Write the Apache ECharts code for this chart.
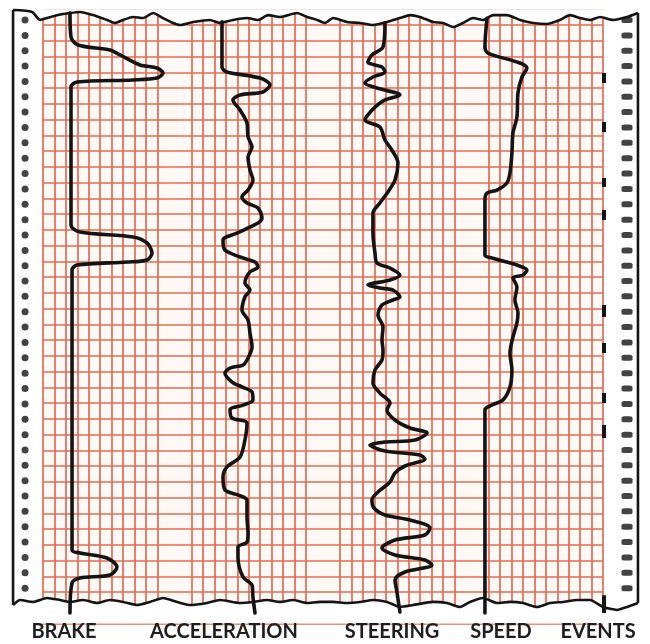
<!DOCTYPE html>
<html>
<head>
<meta charset="utf-8">
<script src="https://cdn.jsdelivr.net/npm/echarts@6/dist/echarts.min.js"></script>
<style>
  html, body { margin: 0; padding: 0; background: #fff; }
  #chart { width: 650px; height: 644px; }
</style>
</head>
<body>
<div id="chart"></div>
<script>
  // recorder paper: one column per grid division, blank columns between the channels
  var columns = [0,1,2,3,4,5,6,7,8,9,10,11,12,13,14,15,16,17,18,19,20,21,22,23,24,
                 25,26,27,28,29,30,31,32,33,34,35,36,37,38,39,40,41,42,43,44,45,46,47,48,49];
  var blankColumns = [11, 12, 24, 25, 37, 38];

  // traces, [column, row] (row 0 = first ruled line)
  var brake = [[2.36,-0.76],[2.45,0.76],[3.06,1.27],[5.86,1.59],[6.74,1.9],[8.49,2.54],[9.97,2.73],[10.5,3.05],
    [9.97,3.37],[7.87,3.49],[2.97,3.62],[2.45,3.94],[2.45,12.7],[3.24,13.14],[7.87,13.46],[9.1,13.84],[9.54,14.48],
    [9.1,14.92],[7.35,15.05],[2.97,15.24],[2.54,15.56],[2.54,33.33],[3.24,33.52],[5.6,33.84],[6.47,34.41],
    [5.86,34.92],[3.24,35.11],[2.54,35.43],[2.36,37.33]];
  var acceleration = [[15.66,-0.2],[15.66,2.67],[16.1,2.98],[18.99,3.37],[19.86,3.81],[19.25,4.25],[17.24,4.44],
    [16.62,4.76],[17.24,5.4],[17.85,6.22],[17.94,7.11],[18.29,7.75],[17.94,8.38],[18.11,9.21],[18.37,9.84],
    [17.94,10.48],[17.41,10.92],[17.85,11.3],[18.81,11.62],[19.16,12.25],[18.81,12.57],[16.97,13.21],[15.75,13.65],
    [15.92,14.29],[17.24,14.73],[18.55,15.05],[18.81,15.37],[18.11,15.68],[17.67,16.38],[18.11,16.83],[17.67,17.27],
    [17.41,18.1],[17.94,18.73],[18.11,19.56],[18.29,20.44],[17.85,21.27],[17.5,21.59],[16.36,21.78],[15.92,22.1],
    [16.54,22.67],[17.41,22.98],[18.29,23.3],[18.37,23.81],[17.5,24.13],[16.36,24.44],[16.54,24.95],[17.85,25.27],
    [17.67,26.35],[17.24,27.43],[16.1,28.06],[15.75,28.7],[15.92,29.52],[17.06,29.84],[17.85,30.16],[17.85,31.24],
    [17.94,32.25],[17.85,32.83],[17.06,33.14],[17.06,33.78],[17.5,35.05],[18.29,35.56],[18.37,36.32],[18.55,37.33]];
  var steering = [[29.92,-0.15],[29.75,1.4],[28.78,1.9],[28.43,2.35],[29.66,2.67],[29.92,2.98],[28.87,3.3],
    [28.17,3.68],[29.22,4.0],[31.23,4.44],[29.92,4.76],[29.05,5.21],[28.43,5.71],[28.17,6.03],[29.48,6.48],
    [29.92,7.3],[30.53,7.94],[31.06,8.76],[30.8,9.84],[30.18,10.6],[29.48,11.3],[28.87,11.94],[28.87,13.21],
    [29.05,14.48],[29.22,15.11],[30.36,15.43],[31.23,15.87],[30.36,16.19],[28.43,16.51],[29.48,16.7],[30.62,16.83],
    [31.23,17.27],[30.62,17.46],[29.66,17.78],[29.31,18.41],[29.75,19.17],[29.66,20.0],[29.75,20.63],[29.66,21.27],
    [29.05,21.9],[28.87,22.73],[29.48,23.37],[30.36,24.0],[30.1,24.44],[30.8,25.08],[32.11,25.59],[33.6,25.9],
    [32.55,26.35],[29.92,26.48],[28.61,26.67],[29.92,27.05],[32.98,27.3],[33.42,27.56],[31.67,28.0],[30.8,28.44],
    [30.36,29.02],[29.31,29.65],[28.78,30.16],[28.96,30.67],[29.92,31.11],[32.11,31.43],[33.86,31.94],[33.42,32.38],
    [30.8,32.7],[29.66,33.21],[30.8,33.65],[33.42,33.97],[34.03,34.29],[31.67,34.73],[30.8,35.24],[30.97,36.0],
    [31.23,37.27]];
  var speed = [[38.85,-0.42],[38.67,1.4],[38.93,1.78],[41.73,2.41],[42.34,2.73],[41.91,3.3],[41.56,4.32],
    [41.47,5.84],[41.12,6.86],[41.03,8.13],[40.86,9.4],[40.59,10.03],[39.72,10.48],[38.85,10.67],[38.67,11.11],
    [38.67,14.6],[39.28,14.79],[41.47,15.24],[42.34,15.56],[42.0,15.87],[41.12,16.06],[41.47,16.63],[41.29,17.46],
    [41.56,18.29],[41.47,18.92],[41.12,19.81],[40.86,20.83],[41.03,21.9],[40.86,22.98],[40.24,23.81],[39.28,24.13],
    [38.67,24.44],[38.67,37.33]];
  // event pen marks, [from row, to row]
  var events = [[3.05,3.68],[6.16,6.79],[9.71,10.29],[11.75,12.38],[17.78,18.54],[20.19,20.83],
    [23.37,24.0],[25.4,26.22],[36.2,37.33]];
  var eventColumn = 49.05;

  // torn paper edges
  var topEdge = [[-2.62,-0.95],[-0.96,-0.83],[-0.26,-0.32],[0.35,-0.44],[1.31,-0.63],[2.36,-0.76],[3.24,-0.83],
    [4.38,-0.63],[5.6,-0.32],[6.3,-0.13],[7.0,-0.32],[7.88,-0.51],[8.75,-0.44],[9.63,-0.76],[10.5,-0.44],
    [11.38,-0.13],[11.99,0],[13.13,-0.19],[14.61,-0.32],[15.49,-0.13],[16.63,-0.32],[17.85,-0.44],[18.81,-0.32],
    [19.69,-0.63],[20.74,-0.51],[22.23,-0.76],[23.1,-0.51],[23.98,-0.32],[24.68,-0.13],[25.38,-0.44],[26.6,-0.19],
    [27.74,-0.13],[28.88,0],[30.1,-0.19],[31.24,-0.44],[32.11,-0.63],[32.99,-0.51],[34.13,-0.19],[35.0,-0.13],
    [35.88,0.13],[36.75,-0.13],[37.63,-0.44],[38.5,-0.32],[39.38,-0.63],[40.6,-0.63],[41.74,-0.32],[42.88,-0.13],
    [44.1,-0.06],[45.24,-0.32],[46.11,-0.63],[46.99,-0.44],[47.86,-0.32],[48.74,-0.51],[49.88,-0.32],[51.1,-0.51],
    [52.06,-0.76]];
  var bottomEdge = [[-2.62,36.83],[-2.01,36.51],[-0.88,36.63],[0.35,36.38],[1.49,36.51],[2.36,36.63],[3.5,36.51],
    [4.73,36.7],[5.86,36.51],[7.0,36.63],[8.23,36.83],[9.36,36.63],[10.5,36.38],[11.73,36.63],[12.86,36.83],
    [14.35,36.7],[15.49,36.51],[17.24,36.7],[18.38,36.63],[19.6,36.51],[20.74,36.63],[21.88,36.51],[23.1,36.7],
    [24.24,36.63],[25.38,36.63],[26.6,36.7],[27.74,36.63],[28.88,36.51],[30.1,36.63],[31.24,36.95],[32.38,36.83],
    [34.13,36.63],[35.35,36.7],[36.49,36.95],[37.36,36.63],[38.5,36.38],[39.73,36.7],[40.86,36.63],[42.0,36.7],
    [43.23,36.95],[44.36,36.7],[45.5,36.63],[46.73,36.51],[47.86,36.51],[49.0,36.95],[50.23,37.14],[51.1,36.95],
    [52.06,36.7]];
  var leftEdge = [[-2.62,-0.95],[-2.62,36.83]];
  var rightEdge = [[52.06,-0.76],[52.06,36.7]];

  // sprocket holes
  var holeRows = [-0.32,0.66,1.63,2.61,3.58,4.56,5.53,6.51,7.48,8.46,9.43,10.41,11.38,12.36,13.33,14.31,15.28,
    16.26,17.23,18.21,19.18,20.16,21.13,22.11,23.08,24.06,25.03,26.01,26.98,27.96,28.93,29.91,30.88,31.86,32.83,
    33.81,34.78,35.76];
  var leftHoleColumn = -1.57;
  var rightHoleColumn = 51.1;

  var channelNames = ['BRAKE', 'ACCELERATION', 'STEERING', 'SPEED', 'EVENTS'];
  var labelCenters = [64, 224, 392, 501, 598];

  var ink = '#141414';
  var rule = '#e26c54';

  function trace(name, data) {
    return {
      name: name, type: 'line', xAxisIndex: 1, yAxisIndex: 1, data: data,
      symbol: 'none', smooth: 0.3, z: 6,
      lineStyle: { color: ink, width: 3.6, cap: 'round', join: 'round' }
    };
  }
  function edge(data, fillTo) {
    var s = {
      type: 'line', xAxisIndex: 1, yAxisIndex: 1, data: data, symbol: 'none', smooth: 0.2, z: 4,
      lineStyle: { color: ink, width: 2.6 }
    };
    if (fillTo) s.areaStyle = { color: '#ffffff', opacity: 1, origin: fillTo };
    return s;
  }
  function holes(col, symbol, size) {
    return {
      type: 'scatter', xAxisIndex: 1, yAxisIndex: 1, symbol: symbol, symbolSize: size, z: 5,
      itemStyle: { color: ink },
      data: holeRows.map(function (r) { return [col, r]; })
    };
  }

  var chart = echarts.init(document.getElementById('chart'));
  var option = {
    animation: false,
    grid: [
      { left: 43, right: 47, top: 9.25, bottom: 20.5, show: true, backgroundColor: '#fff9f6', borderWidth: 0 },
      { left: 8.714, right: 7, top: 9.25, bottom: 20.5 }
    ],
    xAxis: [
      {
        gridIndex: 0, type: 'category', data: columns, boundaryGap: false,
        axisLine: { show: false }, axisTick: { show: false }, axisLabel: { show: false },
        splitLine: {
          show: true,
          interval: function (i) { return blankColumns.indexOf(i) < 0; },
          lineStyle: { color: rule, width: 1.7 }
        }
      },
      { gridIndex: 1, type: 'value', min: -3, max: 52.5, show: false }
    ],
    yAxis: [
      {
        gridIndex: 0, type: 'value', min: -1, max: 38, interval: 1, inverse: true,
        axisLine: { show: false }, axisTick: { show: false }, axisLabel: { show: false },
        splitLine: { show: true, lineStyle: { color: rule, width: 1.7 } }
      },
      { gridIndex: 1, type: 'value', min: -1, max: 38, inverse: true, show: false }
    ],
    series: [
      edge(topEdge, 'start'),
      edge(bottomEdge, 'end'),
      edge(leftEdge),
      edge(rightEdge),
      holes(leftHoleColumn, 'circle', 7),
      holes(rightHoleColumn, 'roundRect', [11, 6]),
      trace('BRAKE', brake),
      trace('ACCELERATION', acceleration),
      trace('STEERING', steering),
      trace('SPEED', speed),
      {
        name: 'EVENTS', type: 'lines', coordinateSystem: 'cartesian2d', xAxisIndex: 1, yAxisIndex: 1, z: 6,
        lineStyle: { color: ink, width: 4, opacity: 1 },
        data: events.map(function (e) { return { coords: [[eventColumn, e[0]], [eventColumn, e[1]]] }; })
      }
    ],
    graphic: channelNames.map(function (n, i) {
      return {
        type: 'text', x: labelCenters[i], y: 632, z: 100,
        style: {
          text: n, font: 'bold 20px Lato', fill: '#1e1e1e',
          textAlign: 'center', textVerticalAlign: 'middle', align: 'center', verticalAlign: 'middle'
        }
      };
    })
  };
  chart.setOption(option);
</script>
</body>
</html>
